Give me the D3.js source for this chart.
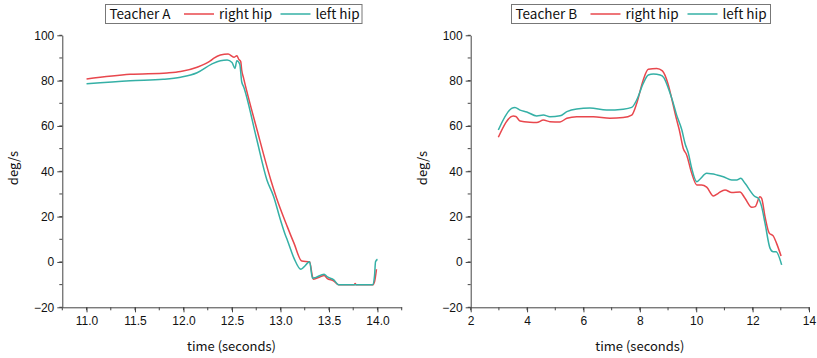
<!DOCTYPE html>
<html>
<head>
<meta charset="utf-8">
<script src="https://cdn.jsdelivr.net/npm/d3@7"></script>
<style>
  html, body { margin: 0; padding: 0; background: #fff; }
  svg { display: block; }
</style>
</head>
<body>
<svg id="chart" width="817" height="358"></svg>
<script>
// ---------------- DATA ----------------
const yTicks = [-20, 0, 20, 40, 60, 80, 100];

// Teacher A
const aXTicks = [11.0, 11.5, 12.0, 12.5, 13.0, 13.5, 14.0];
const aRightTime = [11.00, 11.45, 11.83, 11.97, 12.14, 12.28, 12.31, 12.38, 12.46, 12.52, 12.55, 12.57, 12.59, 12.60, 12.62,
  12.76, 12.90, 12.96, 13.07, 13.14, 13.22, 13.30, 13.33, 13.34, 13.41, 13.45, 13.48, 13.55, 13.60, 13.76, 13.77, 13.78, 13.95, 13.97, 13.99];
const aRightHip = [80.7, 82.8, 83.4, 84.0, 85.9, 88.8, 89.8, 91.3, 91.7, 90.3, 91.0, 89.4, 88.4, 84.7, 81.0,
  58.0, 36.2, 28.1, 15.6, 8.2, 0.4, 0.1, -6.5, -7.6, -6.5, -6.0, -7.2, -8.4, -10.1, -10.1, -9.5, -10.1, -10.1, -8.7, -3.2];
const aLeftTime = [11.00, 11.45, 11.79, 11.97, 12.14, 12.29, 12.38, 12.45, 12.50, 12.53, 12.55, 12.58, 12.60, 12.62,
  12.75, 12.86, 12.93, 13.00, 13.05, 13.07, 13.14, 13.21, 13.24, 13.30, 13.33, 13.36, 13.45, 13.48, 13.55, 13.60, 13.95, 13.97, 13.98, 14.00];
const aLeftHip = [78.6, 80.0, 80.6, 81.5, 83.5, 87.3, 88.8, 89.1, 88.0, 85.4, 88.8, 87.3, 79.5, 77.3,
  55.0, 36.2, 28.8, 18.5, 11.9, 9.7, 1.6, -3.2, -2.3, 0.1, -7.2, -6.9, -5.4, -6.5, -7.9, -10.1, -10.1, -6.0, 0.1, 1.2];

// Teacher B
const bXTicks = [2, 4, 6, 8, 10, 12, 14];
const bRightTime = [2.98, 3.51, 3.60, 3.75, 4.10, 4.34, 4.58, 4.81, 5.17, 5.41, 5.76, 6.35, 6.94, 7.41, 7.71, 7.89, 8.12, 8.30, 8.60, 8.80,
  9.00, 9.15, 9.30, 9.40, 9.54, 9.66, 9.84, 10.02, 10.19, 10.37, 10.61, 10.78, 11.02, 11.26, 11.55, 11.73, 11.97, 12.09, 12.26, 12.32, 12.44, 12.59, 12.73, 12.85, 13.01];
const bRightHip = [55.0, 64.4, 64.2, 62.2, 61.6, 61.5, 62.6, 61.9, 61.8, 63.4, 64.1, 64.1, 63.4, 63.7, 64.8, 70.0, 80.3, 85.0, 85.4, 84.3,
  78.5, 71.0, 63.0, 58.2, 50.1, 47.2, 39.1, 34.0, 34.0, 33.0, 29.1, 30.3, 31.8, 30.6, 30.9, 28.1, 24.1, 24.4, 28.8, 28.1, 20.0, 12.7, 11.5, 8.2, 2.6];
const bLeftTime = [2.98, 3.45, 3.57, 3.75, 3.99, 4.34, 4.58, 4.81, 5.17, 5.41, 5.76, 6.23, 6.82, 7.41, 7.71, 7.89, 8.12, 8.30, 8.48, 8.72, 8.85,
  9.00, 9.15, 9.30, 9.49, 9.60, 9.72, 9.84, 10.02, 10.13, 10.37, 10.73, 10.96, 11.26, 11.44, 11.58, 11.73, 12.09, 12.20, 12.32, 12.44, 12.62, 12.73, 12.83, 13.03];
const bLeftHip = [58.2, 67.8, 68.2, 67.0, 66.2, 64.4, 64.8, 64.1, 64.5, 66.3, 67.5, 67.9, 67.0, 67.4, 68.2, 71.5, 78.8, 82.5, 82.9, 82.5, 81.3,
  77.0, 71.5, 65.0, 58.2, 52.4, 48.0, 41.3, 35.4, 36.5, 39.1, 38.4, 37.6, 36.2, 36.2, 36.9, 34.7, 28.8, 28.1, 24.4, 17.1, 6.0, 4.5, 4.5, -1.3];

const seriesNames = ["right hip", "left hip"];
const colors = ["#e8474d", "#35b0a6"];

// ---------------- DRAW ----------------
const svg = d3.select("#chart");
const numFont = "'Liberation Sans', Arial, sans-serif";
const txtFont = "'Noto Sans CJK JP', 'Noto Sans', sans-serif";
const axisColor = "#444";

function panel(opt) {
  const g = svg.append("g");
  const x = d3.scaleLinear().domain(opt.xDomain).range([opt.x0, opt.x1]);
  const y = d3.scaleLinear().domain([-20, 100]).range([307.3, 35.3]);

  // minor ticks
  const xMinor = d3.range(opt.xDomain[0], opt.xDomain[1] + 1e-9, opt.xMinorStep);
  g.selectAll(".xm").data(xMinor).join("line")
    .attr("x1", d => x(d)).attr("x2", d => x(d))
    .attr("y1", y(-20)).attr("y2", y(-20) + 3)
    .attr("stroke", axisColor).attr("stroke-width", 1);
  const yMinor = d3.range(-20, 100.1, 10);
  g.selectAll(".ym").data(yMinor).join("line")
    .attr("x1", opt.x0 - 3).attr("x2", opt.x0)
    .attr("y1", d => y(d)).attr("y2", d => y(d))
    .attr("stroke", axisColor).attr("stroke-width", 1);

  // x axis
  const xAxis = d3.axisBottom(x).tickValues(opt.xTicks).tickFormat(opt.xFormat).tickSizeInner(5).tickSizeOuter(0).tickPadding(4);
  const gx = g.append("g").attr("transform", `translate(0,${y(-20)})`).call(xAxis);
  gx.select(".domain").attr("stroke", axisColor);
  gx.selectAll(".tick line").attr("stroke", axisColor);
  gx.selectAll("text").attr("font-family", numFont).attr("font-size", 12).attr("fill", "#111");

  // y axis
  const yAxis = d3.axisLeft(y).tickValues(yTicks).tickFormat(d3.format("d")).tickSizeInner(5).tickSizeOuter(0).tickPadding(3);
  const gy = g.append("g").attr("transform", `translate(${opt.x0},0)`).call(yAxis);
  gy.select(".domain").attr("stroke", axisColor);
  gy.selectAll(".tick line").attr("stroke", axisColor);
  gy.selectAll("text").attr("font-family", numFont).attr("font-size", 12).attr("fill", "#111");

  // axis titles
  g.append("text").attr("x", (opt.x0 + opt.x1) / 2 + opt.xTitleShift).attr("y", 351)
    .attr("text-anchor", "middle").attr("font-family", txtFont).attr("font-size", 13).attr("fill", "#111")
    .text("time (seconds)");
  g.append("text").attr("transform", `translate(${opt.yTitleX},168) rotate(-90)`)
    .attr("text-anchor", "middle").attr("font-family", txtFont).attr("font-size", 13).attr("fill", "#111")
    .text("deg/s");

  // lines
  const line = d3.line().x(d => x(d[0])).y(d => y(d[1])).curve(d3.curveMonotoneX);
  opt.series.forEach((s, i) => {
    const pts = d3.zip(s.t, s.v);
    g.append("path").datum(pts).attr("d", line)
      .attr("fill", "none").attr("stroke", colors[i]).attr("stroke-width", 1.5)
      .attr("stroke-linejoin", "round");
  });

  // legend
  const lg = g.append("g");
  lg.append("rect").attr("x", opt.lg.x).attr("y", 4.5).attr("width", opt.lg.w).attr("height", 19)
    .attr("fill", "#fff").attr("stroke", "#777").attr("stroke-width", 1);
  lg.append("text").attr("x", opt.lg.x + 4).attr("y", 19).attr("font-family", txtFont).attr("font-size", 13.5).attr("fill", "#111")
    .text(opt.title);
  opt.lg.items.forEach((it, i) => {
    lg.append("line").attr("x1", it.lx).attr("x2", it.lx + 30).attr("y1", 14).attr("y2", 14)
      .attr("stroke", colors[i]).attr("stroke-width", 1.5);
    lg.append("text").attr("x", it.lx + 35).attr("y", 19).attr("font-family", txtFont).attr("font-size", 13.5).attr("fill", "#111")
      .text(seriesNames[i]);
  });
}

panel({
  title: "Teacher A",
  xDomain: [10.75, 14.25], x0: 62.3, x1: 401.7, xMinorStep: 0.25,
  xTicks: aXTicks, xFormat: d3.format(".1f"), xTitleShift: -0.5, yTitleX: 18,
  series: [{ t: aRightTime, v: aRightHip }, { t: aLeftTime, v: aLeftHip }],
  lg: { x: 105.5, w: 256.5, items: [{ lx: 184 }, { lx: 280.5 }] }
});

panel({
  title: "Teacher B",
  xDomain: [2, 14], x0: 470.7, x1: 809, xMinorStep: 1,
  xTicks: bXTicks, xFormat: d3.format("d"), xTitleShift: 0, yTitleX: 427,
  series: [{ t: bRightTime, v: bRightHip }, { t: bLeftTime, v: bLeftHip }],
  lg: { x: 511.5, w: 259, items: [{ lx: 590.5 }, { lx: 687.5 }] }
});
</script>
</body>
</html>
